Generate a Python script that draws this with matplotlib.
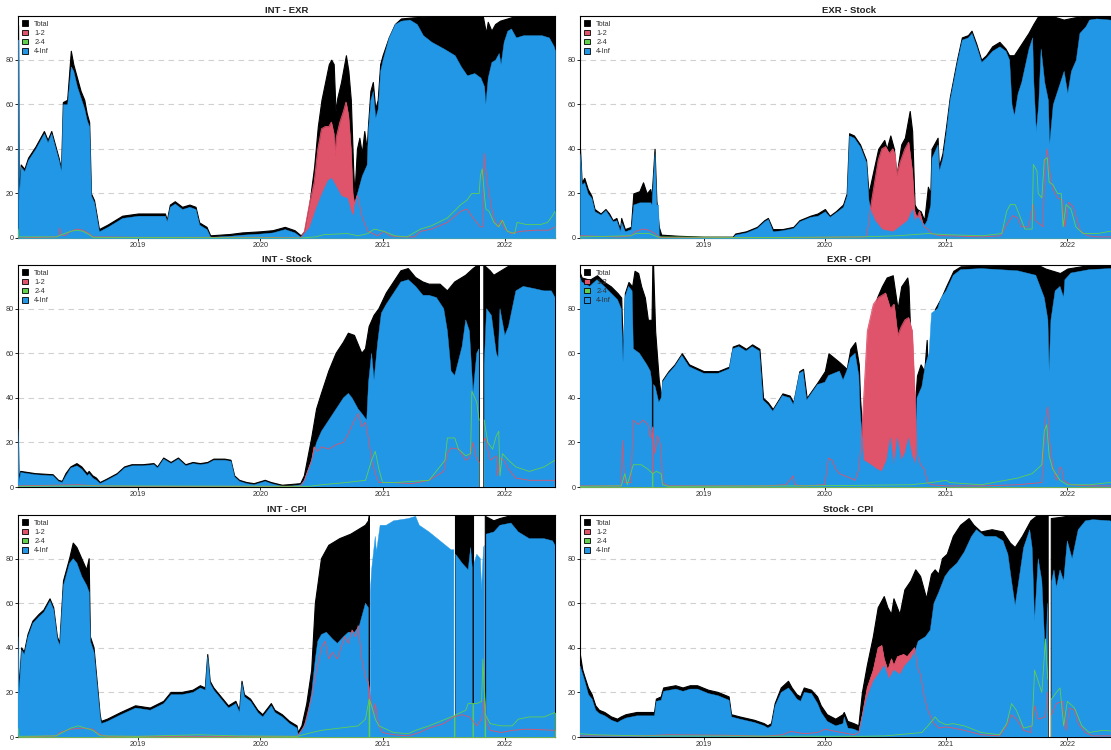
import numpy as np
import matplotlib
matplotlib.use("Agg")
import matplotlib.pyplot as plt
from matplotlib.patches import Patch

nan = np.nan

titles = ["INT - EXR", "EXR - Stock", "INT - Stock", "EXR - CPI", "INT - CPI", "Stock - CPI"]
legend_labels = ["Total", "1-2", "2-4", "4-Inf"]
year_ticks = [2019, 2020, 2021, 2022]
y_ticks = [0, 20, 40, 60, 80]

# ---------------- INT - EXR ----------------
ie_total = [(2018.018, 95.5), (2018.024, 18), (2018.04, 33), (2018.07, 31), (2018.10, 36), (2018.16, 41), (2018.20, 45),
            (2018.23, 48), (2018.26, 44), (2018.29, 48), (2018.32, 42), (2018.35, 36), (2018.37, 31), (2018.385, 61),
            (2018.42, 62), (2018.45, 84), (2018.47, 78), (2018.50, 72), (2018.53, 66), (2018.56, 62), (2018.58, 56),
            (2018.60, 52), (2018.615, 20), (2018.64, 17), (2018.68, 4), (2018.75, 6), (2018.81, 8), (2018.87, 10),
            (2019.00, 11), (2019.15, 11), (2019.22, 11), (2019.235, 8), (2019.26, 15), (2019.30, 16.5), (2019.36, 14),
            (2019.42, 15), (2019.47, 14), (2019.50, 7), (2019.56, 5), (2019.59, 1.2), (2019.75, 1.8), (2019.85, 2.5),
            (2020.00, 3), (2020.10, 3.5), (2020.20, 5), (2020.28, 3.5), (2020.33, 1.2), (2020.36, 3), (2020.40, 15),
            (2020.44, 32), (2020.47, 50), (2020.50, 62), (2020.53, 70), (2020.56, 78), (2020.58, 80), (2020.60, 78),
            (2020.615, 57), (2020.63, 63), (2020.66, 70), (2020.70, 82), (2020.72, 75), (2020.74, 62), (2020.76, 30),
            (2020.77, 20), (2020.79, 40), (2020.81, 45), (2020.83, 38), (2020.85, 48), (2020.87, 40), (2020.88, 50),
            (2020.90, 66), (2020.92, 70), (2020.94, 58), (2020.96, 62), (2020.98, 78), (2021.00, 82), (2021.05, 90),
            (2021.10, 96), (2021.15, 98.5), (2021.25, 99), (2021.40, 99.5), (2021.82, 99.5), (2021.845, 92),
            (2021.86, 97), (2021.89, 93), (2021.92, 96), (2021.96, 97.5), (2022.05, 99), (2022.10, 99.6), (2022.41, 99.6)]
ie_b12 = [(2018.018, 0), (2018.33, 0.5), (2018.35, 1), (2018.36, 4.5), (2018.37, 1.5), (2018.40, 1), (2018.45, 3),
          (2018.50, 4), (2018.55, 3.5), (2018.60, 2), (2018.63, 0.5), (2019.00, 0.3), (2020.00, 0.3), (2020.33, 0),
          (2020.36, 3), (2020.40, 15), (2020.44, 25), (2020.47, 40), (2020.50, 49), (2020.53, 50), (2020.56, 50),
          (2020.58, 52), (2020.60, 47), (2020.61, 37), (2020.62, 45), (2020.65, 52), (2020.68, 57), (2020.70, 61),
          (2020.72, 55), (2020.74, 40), (2020.755, 20), (2020.77, 15), (2020.79, 19), (2020.80, 18), (2020.83, 10),
          (2020.85, 7), (2020.88, 3), (2020.92, 2), (2020.96, 1), (2021.01, 3), (2021.06, 1), (2021.15, 0.5),
          (2021.26, 0.5), (2021.31, 3), (2021.40, 4), (2021.53, 7), (2021.64, 12), (2021.69, 13), (2021.74, 9),
          (2021.80, 5), (2021.82, 5), (2021.83, 38), (2021.855, 25), (2021.89, 14), (2021.915, 8), (2021.94, 5),
          (2021.97, 8), (2022.00, 4), (2022.05, 2), (2022.13, 3), (2022.25, 3.5), (2022.36, 3.5), (2022.41, 5)]
ie_b24 = [(2018.018, 4), (2018.024, 0.5), (2018.33, 0.5), (2018.40, 2), (2018.45, 3), (2018.50, 3.5), (2018.55, 3),
          (2018.60, 1.5), (2018.63, 0.3), (2020.33, 0), (2020.45, 0.5), (2020.52, 1.5), (2020.71, 2), (2020.80, 1),
          (2020.88, 2), (2020.93, 4), (2021.01, 3), (2021.10, 1), (2021.20, 0.5), (2021.31, 4), (2021.40, 5.5),
          (2021.53, 9), (2021.64, 15), (2021.69, 17), (2021.73, 20), (2021.79, 20), (2021.80, 28), (2021.815, 31),
          (2021.835, 18), (2021.845, 13), (2021.87, 12), (2021.91, 7), (2021.95, 5), (2021.98, 8), (2022.02, 3),
          (2022.08, 2), (2022.10, 7), (2022.18, 6), (2022.29, 6), (2022.35, 7), (2022.39, 10), (2022.41, 12)]
ie_b4 = [(2018.018, 89), (2018.021, 89), (2018.024, 17), (2018.04, 32), (2018.07, 30), (2018.10, 35), (2018.16, 40),
         (2018.20, 44), (2018.23, 47), (2018.26, 43), (2018.29, 47), (2018.32, 41), (2018.35, 35), (2018.37, 30),
         (2018.385, 60), (2018.42, 60), (2018.45, 77), (2018.47, 75), (2018.50, 68), (2018.53, 63), (2018.56, 58),
         (2018.58, 53), (2018.60, 50), (2018.615, 19), (2018.64, 16), (2018.68, 3), (2018.75, 5), (2018.81, 7),
         (2018.87, 9), (2019.00, 10), (2019.15, 10), (2019.22, 10), (2019.235, 7.5), (2019.26, 14), (2019.30, 15.5),
         (2019.36, 13), (2019.42, 14), (2019.47, 13), (2019.50, 6), (2019.56, 4), (2019.59, 0.5), (2019.75, 1),
         (2019.85, 1.5), (2020.00, 2), (2020.10, 2.5), (2020.20, 4), (2020.28, 2.5), (2020.33, 0.5), (2020.40, 5),
         (2020.45, 13), (2020.50, 20), (2020.55, 26), (2020.58, 27), (2020.62, 23), (2020.66, 19), (2020.71, 18),
         (2020.74, 12), (2020.76, 10), (2020.77, 16), (2020.80, 22), (2020.83, 28), (2020.87, 33), (2020.88, 48),
         (2020.90, 62), (2020.92, 66), (2020.94, 54), (2020.96, 58), (2020.98, 75), (2021.00, 80), (2021.05, 90),
         (2021.10, 96), (2021.15, 97.5), (2021.22, 98), (2021.28, 96), (2021.33, 91), (2021.40, 88), (2021.50, 85),
         (2021.59, 82), (2021.64, 77), (2021.69, 73), (2021.75, 74), (2021.80, 72), (2021.83, 68), (2021.84, 60),
         (2021.86, 72), (2021.89, 79), (2021.92, 80), (2021.95, 83), (2021.965, 78), (2021.99, 88), (2022.02, 93),
         (2022.05, 94), (2022.09, 90), (2022.15, 91), (2022.30, 91), (2022.36, 90), (2022.40, 86), (2022.41, 84)]

# ---------------- EXR - Stock ----------------
es_total = [(2017.98, 40), (2017.994, 25), (2018.015, 27), (2018.044, 22), (2018.074, 19), (2018.10, 13), (2018.15, 11),
            (2018.19, 13), (2018.22, 11), (2018.25, 8), (2018.28, 9), (2018.31, 4), (2018.32, 9), (2018.35, 4),
            (2018.40, 5), (2018.42, 20), (2018.47, 21), (2018.50, 25), (2018.53, 20), (2018.56, 22), (2018.57, 18),
            (2018.595, 40), (2018.61, 17), (2018.63, 5), (2018.65, 1.5), (2018.79, 1), (2019.00, 0.6), (2019.24, 0.6),
            (2019.26, 2), (2019.35, 3), (2019.44, 5), (2019.50, 8), (2019.53, 9), (2019.57, 4), (2019.65, 4),
            (2019.74, 5), (2019.79, 8), (2019.88, 10), (2019.94, 11), (2020.00, 13), (2020.04, 10), (2020.09, 12),
            (2020.15, 15), (2020.18, 20), (2020.20, 47), (2020.24, 46), (2020.29, 42), (2020.34, 35), (2020.36, 20),
            (2020.40, 30), (2020.44, 40), (2020.49, 44), (2020.51, 40), (2020.54, 46), (2020.57, 40), (2020.59, 28),
            (2020.63, 42), (2020.66, 45), (2020.70, 57), (2020.72, 48), (2020.74, 15), (2020.76, 13), (2020.79, 12),
            (2020.82, 8), (2020.85, 23), (2020.87, 20), (2020.88, 40), (2020.93, 45), (2020.94, 32), (2020.97, 38),
            (2021.00, 50), (2021.03, 63), (2021.09, 80), (2021.13, 90), (2021.18, 91), (2021.21, 93), (2021.25, 87),
            (2021.29, 80), (2021.33, 82), (2021.38, 86), (2021.44, 88), (2021.49, 85), (2021.52, 82), (2021.56, 82),
            (2021.62, 87), (2021.68, 92), (2021.72, 96), (2021.76, 99.6), (2021.88, 99.5), (2021.97, 98),
            (2022.06, 99), (2022.15, 99.6), (2022.41, 99.6)]
es_b12 = [(2017.98, 1), (2018.30, 0.5), (2018.40, 1), (2018.44, 3), (2018.50, 4), (2018.55, 3.5), (2018.60, 2),
          (2018.63, 0.3), (2019.00, 0.2), (2019.90, 0.3), (2020.34, 0.5), (2020.36, 6), (2020.38, 15), (2020.41, 25),
          (2020.44, 35), (2020.47, 40), (2020.50, 41), (2020.53, 38), (2020.56, 40), (2020.58, 37), (2020.59, 28),
          (2020.62, 34), (2020.66, 40), (2020.69, 43), (2020.72, 30), (2020.74, 12), (2020.76, 9), (2020.78, 12),
          (2020.81, 6), (2020.82, 5), (2020.85, 4), (2020.88, 2), (2020.95, 1), (2021.00, 1), (2021.30, 0.5),
          (2021.45, 1), (2021.50, 6), (2021.55, 10), (2021.59, 9), (2021.62, 5), (2021.68, 5), (2021.72, 15),
          (2021.735, 8), (2021.80, 5), (2021.815, 33), (2021.835, 40), (2021.855, 30), (2021.88, 22), (2021.92, 18),
          (2021.96, 17), (2021.98, 5), (2022.01, 16), (2022.05, 14), (2022.08, 8), (2022.11, 3), (2022.17, 1),
          (2022.25, 0.5), (2022.41, 0.5)]
es_b24 = [(2017.98, 0.5), (2018.40, 1), (2018.44, 2), (2018.55, 2), (2018.62, 0.5), (2019.50, 0.2), (2020.30, 0.5),
          (2020.60, 1), (2020.85, 2), (2021.00, 1.5), (2021.30, 1), (2021.46, 2), (2021.50, 12), (2021.53, 15),
          (2021.57, 15), (2021.60, 11), (2021.65, 4), (2021.71, 4), (2021.72, 33), (2021.75, 30), (2021.76, 20),
          (2021.79, 18), (2021.81, 35), (2021.835, 36), (2021.85, 25), (2021.88, 24), (2021.92, 20), (2021.95, 20),
          (2021.965, 5), (2021.99, 15), (2022.03, 13), (2022.07, 5), (2022.13, 2), (2022.25, 2), (2022.35, 3),
          (2022.41, 3)]
es_b4 = [(2017.98, 38), (2017.994, 24), (2018.015, 25), (2018.044, 20), (2018.074, 18), (2018.10, 12), (2018.15, 10.5),
         (2018.19, 12.5), (2018.22, 10), (2018.25, 7.5), (2018.28, 8), (2018.31, 3), (2018.32, 7), (2018.35, 3),
         (2018.40, 4), (2018.42, 15), (2018.47, 16), (2018.50, 16), (2018.53, 16), (2018.56, 16), (2018.57, 15),
         (2018.595, 38), (2018.61, 15), (2018.625, 15), (2018.63, 1), (2018.65, 0.5), (2019.24, 0.3), (2019.26, 1.5),
         (2019.35, 2.5), (2019.44, 4.5), (2019.50, 7.5), (2019.53, 8.5), (2019.57, 3), (2019.65, 3.5), (2019.74, 4.5),
         (2019.79, 7.5), (2019.88, 9.5), (2019.94, 10), (2020.00, 12), (2020.04, 9.5), (2020.09, 11.5), (2020.15, 14),
         (2020.18, 19), (2020.20, 46), (2020.24, 45), (2020.29, 41), (2020.34, 34), (2020.36, 17), (2020.38, 12),
         (2020.41, 8), (2020.47, 4), (2020.56, 3), (2020.68, 8), (2020.72, 13), (2020.74, 8), (2020.76, 10),
         (2020.79, 8), (2020.82, 6), (2020.84, 8), (2020.87, 15), (2020.88, 36), (2020.93, 42), (2020.94, 30),
         (2020.97, 36), (2021.00, 48), (2021.03, 62), (2021.09, 79), (2021.13, 89), (2021.18, 90), (2021.21, 92),
         (2021.25, 86), (2021.29, 79), (2021.33, 81), (2021.38, 84), (2021.44, 86), (2021.49, 84), (2021.52, 80),
         (2021.54, 60), (2021.56, 55), (2021.59, 65), (2021.62, 70), (2021.68, 85), (2021.71, 90), (2021.72, 70),
         (2021.74, 48), (2021.76, 60), (2021.78, 85), (2021.81, 70), (2021.84, 62), (2021.85, 42), (2021.88, 60),
         (2021.91, 65), (2021.94, 70), (2021.97, 75), (2022.00, 65), (2022.03, 75), (2022.07, 80), (2022.10, 92),
         (2022.15, 95), (2022.18, 98), (2022.24, 98.5), (2022.35, 98), (2022.41, 97)]

# ---------------- INT - Stock ----------------
is_total = [(2018.018, 32), (2018.027, 3), (2018.04, 7), (2018.16, 6), (2018.305, 5.5), (2018.35, 3), (2018.38, 2.5),
            (2018.41, 6), (2018.45, 9), (2018.50, 10.5), (2018.54, 9), (2018.585, 6), (2018.60, 7), (2018.63, 5),
            (2018.66, 4), (2018.69, 2), (2018.745, 3.5), (2018.83, 6), (2018.89, 9), (2018.95, 10), (2019.04, 10),
            (2019.13, 10.5), (2019.16, 9), (2019.21, 13), (2019.27, 11), (2019.33, 13), (2019.39, 10), (2019.45, 11),
            (2019.51, 10.5), (2019.57, 11), (2019.62, 12.5), (2019.71, 12.5), (2019.76, 12), (2019.79, 5),
            (2019.83, 3), (2019.89, 2), (2019.95, 1.5), (2020.04, 3), (2020.09, 2), (2020.18, 0.8), (2020.27, 1.2),
            (2020.33, 1.5), (2020.36, 5), (2020.42, 22), (2020.46, 35), (2020.50, 42), (2020.56, 52), (2020.62, 60),
            (2020.68, 65), (2020.72, 69), (2020.77, 68), (2020.83, 60), (2020.86, 62), (2020.89, 72), (2020.93, 77),
            (2020.97, 80), (2021.03, 87), (2021.09, 92), (2021.15, 97), (2021.21, 98), (2021.27, 94), (2021.33, 92),
            (2021.38, 91), (2021.47, 91), (2021.53, 88), (2021.59, 92), (2021.68, 95), (2021.74, 98), (2021.78, 99.6),
            (2021.792, 99.6), (2021.81, nan), (2021.828, 99.3), (2021.84, 99), (2021.88, 97), (2021.91, 95),
            (2021.97, 97), (2022.03, 99), (2022.09, 99.6), (2022.41, 99.6)]
is_b12 = [(2018.018, 0.5), (2018.50, 1), (2018.70, 0.5), (2019.00, 0.3), (2020.33, 0.3), (2020.36, 3), (2020.42, 12),
          (2020.44, 18), (2020.47, 16), (2020.50, 18), (2020.56, 17), (2020.62, 19), (2020.68, 20), (2020.72, 24),
          (2020.77, 30), (2020.80, 33), (2020.83, 27), (2020.86, 29), (2020.89, 20), (2020.91, 12), (2020.94, 6),
          (2020.97, 2), (2021.09, 2), (2021.24, 1.5), (2021.38, 3), (2021.50, 7), (2021.53, 15), (2021.56, 17.5),
          (2021.62, 17), (2021.68, 12), (2021.71, 13), (2021.74, 20), (2021.76, 14), (2021.789, 11), (2021.81, nan),
          (2021.831, 21), (2021.84, 22), (2021.88, 12), (2021.93, 14), (2021.94, 5), (2021.96, 13), (2021.99, 12),
          (2022.03, 8), (2022.09, 4), (2022.20, 3), (2022.41, 3)]
is_b24 = [(2018.018, 0.3), (2018.50, 0.5), (2020.40, 0.3), (2020.50, 1), (2020.70, 2), (2020.86, 3), (2020.91, 12),
          (2020.94, 16), (2020.97, 8), (2021.00, 2), (2021.10, 2), (2021.38, 3), (2021.51, 12), (2021.53, 22),
          (2021.59, 22), (2021.62, 17), (2021.68, 14), (2021.72, 15), (2021.73, 43), (2021.77, 38), (2021.789, 30),
          (2021.81, nan), (2021.831, 30), (2021.86, 20), (2021.90, 17), (2021.93, 23), (2021.95, 25), (2021.96, 5),
          (2021.98, 15), (2022.03, 12), (2022.09, 9), (2022.20, 7), (2022.32, 9), (2022.41, 12)]
is_b4 = [(2018.018, 26), (2018.027, 2), (2018.04, 6.5), (2018.16, 5.5), (2018.305, 5), (2018.35, 2.5), (2018.38, 2),
         (2018.41, 5), (2018.45, 8.5), (2018.50, 9.5), (2018.54, 8), (2018.585, 5), (2018.60, 6), (2018.63, 4),
         (2018.66, 3), (2018.69, 1.5), (2018.745, 3), (2018.83, 5.5), (2018.89, 8.5), (2018.95, 9.5), (2019.04, 9.5),
         (2019.13, 10), (2019.16, 8.5), (2019.21, 12.5), (2019.27, 10.5), (2019.33, 12.5), (2019.39, 9.5),
         (2019.45, 10.5), (2019.51, 10), (2019.57, 10.5), (2019.62, 12), (2019.71, 12), (2019.76, 11.5),
         (2019.79, 4.5), (2019.83, 2.5), (2019.89, 1.5), (2019.95, 1), (2020.04, 2.5), (2020.09, 1.5), (2020.18, 0.3),
         (2020.27, 0.5), (2020.33, 1), (2020.36, 3), (2020.42, 12), (2020.46, 20), (2020.50, 25), (2020.56, 30),
         (2020.62, 35), (2020.68, 40), (2020.72, 42), (2020.75, 40), (2020.80, 35), (2020.83, 33), (2020.87, 30),
         (2020.885, 47), (2020.91, 60), (2020.93, 48), (2020.96, 65), (2020.99, 78), (2021.03, 82), (2021.09, 87),
         (2021.15, 92), (2021.21, 93), (2021.27, 90), (2021.33, 86), (2021.38, 86), (2021.44, 85), (2021.50, 80),
         (2021.53, 70), (2021.56, 52), (2021.59, 50), (2021.65, 63), (2021.68, 75), (2021.71, 70), (2021.74, 42),
         (2021.77, 60), (2021.788, 62), (2021.81, nan), (2021.832, 55), (2021.85, 80), (2021.89, 77), (2021.93, 60),
         (2021.945, 58), (2021.96, 80), (2022.00, 68), (2022.03, 72), (2022.06, 80), (2022.09, 88), (2022.15, 90),
         (2022.24, 89), (2022.32, 88), (2022.38, 88), (2022.41, 85)]

# ---------------- EXR - CPI ----------------
ec_total = [(2017.98, 96), (2017.994, 94), (2018.06, 93), (2018.12, 95), (2018.18, 92), (2018.235, 90), (2018.29, 87),
            (2018.32, 85), (2018.335, 57), (2018.35, 87), (2018.38, 92), (2018.41, 90), (2018.43, 97), (2018.46, 96),
            (2018.485, 90), (2018.515, 85), (2018.54, 75), (2018.57, 75), (2018.577, 99.6), (2018.583, 99.6),
            (2018.60, 70), (2018.63, 48), (2018.65, 40), (2018.66, 48), (2018.71, 52), (2018.76, 55), (2018.82, 60),
            (2018.88, 55), (2019.00, 52), (2019.12, 52), (2019.21, 54), (2019.24, 63), (2019.29, 64), (2019.35, 62),
            (2019.40, 64), (2019.46, 62), (2019.49, 40), (2019.53, 38), (2019.57, 35), (2019.65, 42), (2019.71, 41),
            (2019.74, 38), (2019.79, 52), (2019.82, 53), (2019.85, 40), (2019.94, 47), (2020.00, 52), (2020.03, 60),
            (2020.12, 56), (2020.18, 53), (2020.21, 62), (2020.25, 65), (2020.28, 55), (2020.29, 40), (2020.31, 24),
            (2020.34, 45), (2020.38, 70), (2020.43, 85), (2020.47, 90), (2020.51, 94), (2020.56, 95), (2020.60, 80),
            (2020.63, 90), (2020.68, 94), (2020.69, 90), (2020.71, 60), (2020.74, 35), (2020.76, 50), (2020.79, 55),
            (2020.82, 52), (2020.84, 66), (2020.85, 50), (2020.88, 70), (2020.91, 80), (2020.96, 85), (2021.00, 90),
            (2021.06, 97), (2021.12, 99), (2021.59, 99.6), (2021.76, 99.6), (2021.82, 98), (2021.88, 97),
            (2021.94, 96), (2022.00, 98), (2022.18, 99.6), (2022.41, 99.6)]
ec_b12 = [(2017.98, 0.5), (2018.32, 0.5), (2018.33, 21), (2018.35, 2), (2018.40, 2), (2018.42, 30), (2018.46, 28),
          (2018.50, 30), (2018.54, 28), (2018.56, 22), (2018.58, 27), (2018.60, 15), (2018.62, 23), (2018.65, 18),
          (2018.66, 2), (2018.71, 0.5), (2019.50, 0.5), (2019.68, 1), (2019.74, 5), (2019.75, 1), (2019.82, 0.5),
          (2020.00, 1), (2020.03, 13), (2020.06, 12), (2020.09, 8), (2020.12, 6), (2020.21, 4), (2020.25, 3),
          (2020.28, 8), (2020.30, 20), (2020.32, 40), (2020.35, 70), (2020.40, 82), (2020.44, 85), (2020.50, 87),
          (2020.54, 80), (2020.57, 82), (2020.60, 68), (2020.63, 72), (2020.66, 75), (2020.69, 76), (2020.72, 70),
          (2020.75, 30), (2020.76, 15), (2020.79, 10), (2020.82, 8), (2020.85, 2), (2020.88, 1), (2021.00, 0.5),
          (2021.30, 0.5), (2021.59, 1), (2021.79, 2), (2021.82, 30), (2021.84, 36), (2021.855, 20), (2021.88, 10),
          (2021.91, 3), (2021.94, 9), (2021.955, 8), (2021.97, 3), (2022.03, 1), (2022.18, 0.5), (2022.41, 0.5)]
ec_b24 = [(2017.98, 0.3), (2018.32, 0.5), (2018.35, 6), (2018.37, 1), (2018.42, 10), (2018.485, 10), (2018.54, 8),
          (2018.58, 6), (2018.61, 7), (2018.65, 6), (2018.66, 1), (2018.71, 0.3), (2019.82, 0.5), (2020.71, 1),
          (2020.88, 2), (2021.00, 3), (2021.03, 2), (2021.29, 1), (2021.59, 4), (2021.71, 6), (2021.79, 10),
          (2021.81, 25), (2021.83, 28), (2021.85, 14), (2021.88, 8), (2021.94, 3), (2022.00, 1), (2022.18, 1),
          (2022.35, 2), (2022.41, 2)]
ec_b4 = [(2017.98, 94), (2017.994, 92), (2018.06, 90), (2018.12, 93), (2018.18, 90), (2018.235, 87), (2018.29, 84),
         (2018.32, 80), (2018.335, 56), (2018.35, 85), (2018.38, 90), (2018.41, 88), (2018.42, 62), (2018.47, 60),
         (2018.53, 55), (2018.56, 52), (2018.573, 47), (2018.58, nan), (2018.587, 46), (2018.60, 45), (2018.63, 38),
         (2018.65, 40), (2018.66, 47), (2018.71, 51), (2018.76, 54), (2018.82, 59), (2018.88, 54), (2019.00, 51),
         (2019.12, 51), (2019.21, 53), (2019.24, 62), (2019.29, 63), (2019.35, 61), (2019.40, 63), (2019.46, 61),
         (2019.49, 39), (2019.53, 37), (2019.57, 34), (2019.65, 41), (2019.71, 40), (2019.74, 37), (2019.79, 51),
         (2019.82, 52), (2019.85, 39), (2019.94, 46), (2020.00, 47), (2020.03, 50), (2020.12, 52), (2020.15, 48),
         (2020.18, 52), (2020.21, 58), (2020.25, 60), (2020.28, 50), (2020.29, 35), (2020.31, 20), (2020.32, 12),
         (2020.38, 10), (2020.43, 8), (2020.47, 7), (2020.51, 12), (2020.54, 22), (2020.57, 10), (2020.60, 22),
         (2020.63, 12), (2020.66, 15), (2020.69, 22), (2020.72, 14), (2020.75, 10), (2020.76, 40), (2020.80, 45),
         (2020.83, 55), (2020.86, 60), (2020.88, 78), (2020.93, 80), (2020.96, 85), (2021.00, 88), (2021.06, 95),
         (2021.12, 97.5), (2021.29, 98), (2021.59, 97), (2021.74, 95), (2021.81, 85), (2021.84, 75), (2021.85, 52),
         (2021.865, 75), (2021.90, 88), (2021.94, 90), (2021.97, 85), (2021.98, 93), (2022.03, 96), (2022.18, 97.5),
         (2022.35, 98), (2022.41, 98)]

# ---------------- INT - CPI ----------------
ic_total = [(2018.018, 48), (2018.027, 20), (2018.048, 40), (2018.07, 38), (2018.10, 46), (2018.14, 52), (2018.19, 55),
            (2018.23, 57), (2018.28, 62), (2018.31, 58), (2018.34, 45), (2018.36, 42), (2018.39, 70), (2018.44, 80),
            (2018.47, 87), (2018.50, 85), (2018.54, 80), (2018.58, 75), (2018.60, 80), (2018.61, 45), (2018.64, 40),
            (2018.69, 10), (2018.70, 7), (2018.75, 8), (2018.86, 11), (2018.98, 14), (2019.10, 13), (2019.21, 16),
            (2019.27, 20), (2019.36, 20), (2019.45, 21), (2019.51, 23), (2019.55, 22), (2019.57, 37), (2019.59, 25),
            (2019.62, 22), (2019.68, 18), (2019.74, 14), (2019.80, 16), (2019.83, 12), (2019.85, 25), (2019.87, 19),
            (2019.92, 17), (2019.98, 12), (2020.02, 10), (2020.09, 15), (2020.12, 12), (2020.18, 10), (2020.24, 7),
            (2020.30, 5), (2020.31, 2), (2020.34, 5), (2020.38, 15), (2020.42, 30), (2020.45, 60), (2020.50, 80),
            (2020.56, 86), (2020.65, 89), (2020.74, 91), (2020.80, 93), (2020.86, 95), (2020.885, 97),
            (2020.892, 99.6), (2020.897, nan), (2021.585, nan), (2021.59, 99.6), (2021.74, 99.6), (2021.745, nan),
            (2021.835, nan), (2021.84, 99), (2021.91, 97), (2021.96, 98), (2022.03, 99), (2022.11, 99.6),
            (2022.41, 99.6)]
ic_b12 = [(2018.018, 0), (2018.33, 0.5), (2018.36, 2), (2018.45, 3.5), (2018.54, 4), (2018.63, 3.5), (2018.69, 1),
          (2018.75, 0.3), (2020.30, 0.3), (2020.31, 1), (2020.36, 5), (2020.42, 18), (2020.46, 30), (2020.50, 40),
          (2020.53, 43), (2020.56, 35), (2020.59, 38), (2020.63, 35), (2020.66, 40), (2020.69, 45), (2020.72, 42),
          (2020.75, 48), (2020.78, 45), (2020.80, 50), (2020.83, 35), (2020.86, 27), (2020.88, 25), (2020.90, 17),
          (2020.93, 10), (2020.94, 15), (2020.97, 5), (2021.00, 2), (2021.09, 1), (2021.21, 0.5), (2021.30, 2),
          (2021.38, 4), (2021.50, 6), (2021.58, 9), (2021.65, 10), (2021.71, 9), (2021.77, 5), (2021.81, 8),
          (2021.83, 17), (2021.85, 6), (2021.88, 3), (2021.97, 2), (2022.06, 3), (2022.18, 3.5), (2022.41, 3)]
ic_b24 = [(2018.018, 4), (2018.027, 0.3), (2018.33, 0.5), (2018.45, 4), (2018.51, 5), (2018.57, 4), (2018.63, 3),
          (2018.69, 0.5), (2019.00, 0.3), (2019.50, 1), (2019.80, 0.5), (2020.30, 0.3), (2020.42, 2), (2020.50, 3),
          (2020.65, 4), (2020.80, 5), (2020.86, 8), (2020.89, 17), (2020.91, 14), (2020.94, 8), (2020.97, 5),
          (2021.09, 2), (2021.21, 1.5), (2021.27, 3), (2021.38, 5), (2021.56, 9), (2021.68, 12), (2021.70, 15),
          (2021.77, 15), (2021.81, 16), (2021.82, 35), (2021.84, 10), (2021.88, 6), (2021.97, 5), (2022.06, 5),
          (2022.11, 8), (2022.20, 9), (2022.32, 9), (2022.41, 11)]
ic_b4 = [(2018.018, 45), (2018.027, 19), (2018.048, 39), (2018.07, 37), (2018.10, 45), (2018.14, 51), (2018.19, 54),
         (2018.23, 56), (2018.28, 61), (2018.31, 57), (2018.34, 44), (2018.36, 41), (2018.39, 68), (2018.44, 78),
         (2018.47, 80), (2018.50, 78), (2018.54, 72), (2018.58, 68), (2018.60, 65), (2018.61, 43), (2018.64, 38),
         (2018.69, 9), (2018.70, 6), (2018.75, 7), (2018.86, 10), (2018.98, 13), (2019.10, 12), (2019.21, 15),
         (2019.27, 19), (2019.36, 19), (2019.45, 20), (2019.51, 22), (2019.55, 21), (2019.57, 36), (2019.59, 24),
         (2019.62, 21), (2019.68, 17), (2019.74, 13), (2019.80, 15), (2019.83, 11), (2019.85, 24), (2019.87, 18),
         (2019.92, 16), (2019.98, 11), (2020.02, 9), (2020.09, 14), (2020.12, 11), (2020.18, 9), (2020.24, 6),
         (2020.30, 4), (2020.31, 1), (2020.34, 3), (2020.38, 8), (2020.42, 20), (2020.45, 35), (2020.47, 43),
         (2020.50, 46), (2020.54, 47), (2020.59, 44), (2020.63, 42), (2020.68, 45), (2020.72, 47), (2020.77, 47),
         (2020.81, 50), (2020.86, 60), (2020.884, 58), (2020.892, nan), (2020.90, 65), (2020.91, 75), (2020.94, 90),
         (2020.95, 83), (2020.98, 95), (2021.03, 95), (2021.09, 97), (2021.21, 98), (2021.27, 99), (2021.30, 95),
         (2021.38, 92), (2021.47, 88), (2021.56, 84), (2021.583, 84), (2021.59, nan), (2021.597, 82), (2021.65, 78),
         (2021.70, 75), (2021.72, 85), (2021.733, 76), (2021.74, nan), (2021.748, 78), (2021.77, 82), (2021.80, 80),
         (2021.81, 66), (2021.825, 85), (2021.833, 86), (2021.84, nan), (2021.847, 91), (2021.91, 92), (2021.96, 95),
         (2022.05, 96), (2022.11, 92), (2022.20, 89), (2022.32, 89), (2022.39, 88), (2022.41, 86)]

# ---------------- Stock - CPI ----------------
sc_total = [(2017.98, 38), (2018.003, 30), (2018.02, 27), (2018.05, 22), (2018.08, 19), (2018.11, 14), (2018.14, 12),
            (2018.185, 11), (2018.24, 9), (2018.29, 8), (2018.32, 9), (2018.36, 10), (2018.45, 11), (2018.54, 11),
            (2018.595, 11), (2018.61, 17), (2018.65, 18), (2018.67, 22), (2018.77, 23), (2018.83, 22), (2018.89, 23),
            (2018.95, 23), (2019.04, 21), (2019.12, 20), (2019.21, 18), (2019.23, 10), (2019.30, 9), (2019.42, 7.5),
            (2019.50, 6), (2019.53, 5), (2019.56, 6), (2019.59, 15), (2019.64, 22), (2019.70, 25), (2019.73, 22),
            (2019.77, 19), (2019.80, 18), (2019.83, 22), (2019.89, 21), (2019.94, 18), (2019.97, 14), (2020.02, 10),
            (2020.09, 8), (2020.15, 10), (2020.16, 11), (2020.19, 7), (2020.24, 6), (2020.28, 5), (2020.31, 20),
            (2020.35, 32), (2020.40, 45), (2020.44, 58), (2020.49, 63), (2020.52, 58), (2020.55, 55), (2020.57, 62),
            (2020.62, 55), (2020.66, 66), (2020.71, 70), (2020.75, 75), (2020.79, 72), (2020.84, 62), (2020.85, 65),
            (2020.88, 73), (2020.91, 75), (2020.94, 73), (2020.97, 80), (2021.01, 82), (2021.06, 90), (2021.12, 95),
            (2021.19, 98), (2021.23, 95), (2021.29, 92), (2021.38, 93), (2021.47, 92), (2021.53, 87), (2021.57, 85),
            (2021.63, 90), (2021.70, 97), (2021.76, 99.6), (2021.842, 99.6), (2021.855, nan), (2021.868, 98),
            (2021.94, 98.5), (2022.00, 99), (2022.09, 99), (2022.17, 99.6), (2022.41, 99.6)]
sc_b12 = [(2017.98, 0.5), (2018.50, 0.5), (2018.70, 1), (2019.20, 0.8), (2019.50, 0.3), (2019.65, 1), (2019.72, 2.5),
          (2019.83, 1.5), (2019.94, 2), (2020.00, 3.5), (2020.09, 2.5), (2020.24, 1), (2020.28, 2), (2020.31, 10),
          (2020.35, 22), (2020.40, 30), (2020.44, 40), (2020.47, 41), (2020.49, 35), (2020.52, 30), (2020.55, 35),
          (2020.57, 32), (2020.60, 36), (2020.65, 37), (2020.68, 36), (2020.71, 38), (2020.74, 40), (2020.77, 30),
          (2020.79, 28), (2020.82, 18), (2020.85, 12), (2020.90, 6), (2020.94, 4), (2021.00, 4.5), (2021.06, 4),
          (2021.15, 3), (2021.29, 1), (2021.44, 0.5), (2021.50, 5), (2021.54, 10), (2021.58, 8), (2021.64, 3),
          (2021.70, 2), (2021.73, 14), (2021.76, 8), (2021.82, 9), (2021.838, 20), (2021.855, nan), (2021.87, 10),
          (2021.91, 15), (2021.96, 16), (2021.99, 3), (2022.02, 13), (2022.06, 12), (2022.09, 6), (2022.15, 2),
          (2022.21, 0.5), (2022.41, 0.5)]
sc_b24 = [(2017.98, 1.5), (2018.10, 1), (2018.50, 0.5), (2020.30, 0.3), (2020.50, 0.5), (2020.80, 2), (2020.85, 5),
          (2020.91, 9), (2020.94, 7), (2021.00, 5.5), (2021.06, 6), (2021.15, 5), (2021.29, 2), (2021.44, 1),
          (2021.50, 6), (2021.54, 15), (2021.58, 12), (2021.64, 4), (2021.71, 5), (2021.73, 30), (2021.76, 25),
          (2021.79, 20), (2021.82, 44), (2021.838, 26), (2021.855, nan), (2021.87, 17), (2021.91, 20), (2021.94, 22),
          (2021.97, 5), (2022.00, 16), (2022.06, 13), (2022.12, 5), (2022.18, 2), (2022.29, 3), (2022.41, 2.5)]
sc_b4 = [(2017.98, 32), (2018.003, 28), (2018.02, 25), (2018.05, 19), (2018.08, 17), (2018.11, 12), (2018.14, 10.5),
         (2018.185, 9.5), (2018.24, 7.5), (2018.29, 6.5), (2018.32, 7.5), (2018.36, 8.5), (2018.45, 9.5),
         (2018.54, 9.5), (2018.595, 9.5), (2018.61, 16), (2018.65, 16.5), (2018.67, 20.5), (2018.77, 21.5),
         (2018.83, 20.5), (2018.89, 21.5), (2018.95, 21.5), (2019.04, 19.5), (2019.12, 18.5), (2019.21, 16.5),
         (2019.23, 9), (2019.30, 8), (2019.42, 6.5), (2019.50, 5), (2019.53, 4), (2019.56, 5), (2019.59, 14),
         (2019.64, 20), (2019.70, 22), (2019.73, 20), (2019.77, 17), (2019.80, 16), (2019.83, 20), (2019.89, 19.5),
         (2019.94, 15), (2019.97, 11), (2020.02, 7), (2020.09, 5), (2020.15, 6), (2020.16, 9), (2020.19, 4),
         (2020.24, 3.5), (2020.28, 2.5), (2020.31, 10), (2020.35, 18), (2020.40, 25), (2020.44, 28), (2020.49, 32),
         (2020.53, 26), (2020.57, 30), (2020.62, 28), (2020.66, 32), (2020.71, 35), (2020.74, 38), (2020.77, 43),
         (2020.83, 45), (2020.87, 48), (2020.90, 60), (2020.94, 65), (2020.99, 72), (2021.03, 75), (2021.09, 78),
         (2021.15, 83), (2021.21, 90), (2021.25, 93), (2021.32, 90), (2021.41, 90), (2021.47, 88), (2021.51, 82),
         (2021.54, 70), (2021.57, 59), (2021.60, 70), (2021.64, 85), (2021.69, 93), (2021.71, 85), (2021.73, 52),
         (2021.76, 80), (2021.79, 70), (2021.82, 35), (2021.838, 60), (2021.855, nan), (2021.872, 70),
         (2021.89, 75), (2021.91, 67), (2021.94, 75), (2021.97, 70), (2022.00, 88), (2022.04, 80), (2022.09, 93),
         (2022.15, 97), (2022.21, 97.5), (2022.35, 97), (2022.41, 96)]

panel_series = [
    (ie_total, ie_b12, ie_b24, ie_b4),
    (es_total, es_b12, es_b24, es_b4),
    (is_total, is_b12, is_b24, is_b4),
    (ec_total, ec_b12, ec_b24, ec_b4),
    (ic_total, ic_b12, ic_b24, ic_b4),
    (sc_total, sc_b12, sc_b24, sc_b4),
]

COLORS = ["#000000", "#DF536B", "#61D04F", "#2297E6"]
TXT = "#333333"

plt.rcParams['font.family'] = ['Liberation Sans', 'DejaVu Sans']

W, H = 1111, 750
fig = plt.figure(figsize=(W / 100, H / 100), dpi=100)

col_left = [18, 580]
col_xlim = [(2018.018, 2022.41), (2017.98, 2022.41)]
row_tops = [16, 265, 515]
ax_w = 537
ax_h = 222


def to_arr(pairs):
    t = np.array([p[0] for p in pairs], dtype=float)
    v = np.array([p[1] for p in pairs], dtype=float)
    return t, v


for i, (title, series) in enumerate(zip(titles, panel_series)):
    r, c = divmod(i, 2)
    left = col_left[c] / W
    bottom = 1 - (row_tops[r] + ax_h) / H
    ax = fig.add_axes([left, bottom, ax_w / W, ax_h / H])

    ax.set_axisbelow(True)
    ax.yaxis.grid(True, color="#D0D0D0", linestyle=(0, (5, 4)), linewidth=0.8)

    tt, vt = to_arr(series[0])
    t12, v12 = to_arr(series[1])
    t24, v24 = to_arr(series[2])
    t4, v4 = to_arr(series[3])

    ax.fill_between(tt, 0, vt, facecolor=COLORS[0], edgecolor=COLORS[0], linewidth=0.8, zorder=2)
    ax.fill_between(t12, 0, v12, facecolor=COLORS[1], edgecolor=COLORS[1], linewidth=0.4, zorder=3)
    ax.fill_between(t24, 0, v24, facecolor=COLORS[2], edgecolor=COLORS[2], linewidth=0.4, zorder=4)
    ax.fill_between(t4, 0, v4, facecolor=COLORS[3], edgecolor=COLORS[3], linewidth=0.3, zorder=5)
    ax.plot(t12, v12, color=COLORS[1], linewidth=0.6, zorder=6)
    ax.plot(t24, v24, color=COLORS[2], linewidth=0.6, zorder=7)

    ax.set_xlim(*col_xlim[c])
    ax.set_ylim(0, 99.6)
    ax.set_xticks(year_ticks)
    ax.set_xticklabels([str(y) for y in year_ticks])
    ax.set_yticks(y_ticks)
    ax.tick_params(axis='both', labelsize=5.2, labelcolor=TXT, length=2.2, width=0.6, pad=1, direction='out')
    for s in ax.spines.values():
        s.set_linewidth(0.8)
        s.set_color("black")
    ax.set_title(title, fontsize=6.8, fontweight='bold', color="#222222", pad=2.5)

    handles = [Patch(facecolor=col, edgecolor='black', linewidth=0.6) for col in COLORS]
    leg = ax.legend(handles, legend_labels, loc='upper left', frameon=False, fontsize=5.3,
                    handlelength=0.8, handleheight=0.8, handletextpad=0.8, labelspacing=0.25,
                    borderaxespad=0.3, borderpad=0.3)
    for txt in leg.get_texts():
        txt.set_color(TXT)
    leg.set_zorder(10)

fig.savefig("out.png", dpi=100)
